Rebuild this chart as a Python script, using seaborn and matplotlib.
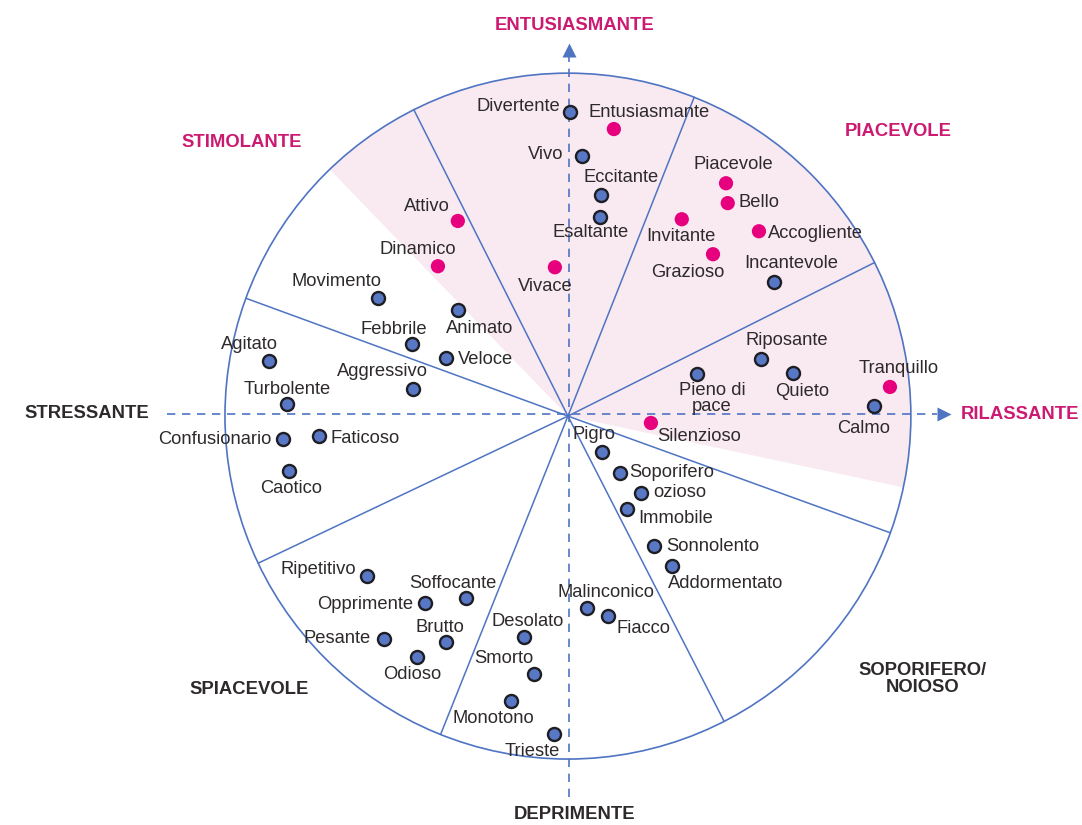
import matplotlib
matplotlib.use('Agg')
import numpy as np
import pandas as pd
import seaborn as sns
from matplotlib import pyplot as plt
from matplotlib.patches import Wedge, Circle

# DATA ########################################################################
# position of each descriptor on the two axes
# (x: stressante -> rilassante, y: deprimente -> entusiasmante)
words = [
    'Divertente', 'Entusiasmante', 'Vivo', 'Eccitante', 'Esaltante', 'Vivace',
    'Attivo', 'Dinamico', 'Movimento', 'Animato', 'Febbrile', 'Veloce',
    'Agitato', 'Aggressivo', 'Turbolente', 'Confusionario', 'Faticoso',
    'Caotico', 'Piacevole', 'Bello', 'Invitante', 'Accogliente', 'Grazioso',
    'Incantevole', 'Riposante', 'Quieto', 'Pieno di\npace', 'Tranquillo',
    'Calmo', 'Silenzioso', 'Pigro', 'Soporifero', 'ozioso', 'Immobile',
    'Sonnolento', 'Addormentato', 'Malinconico', 'Fiacco', 'Desolato',
    'Smorto', 'Monotono', 'Trieste', 'Ripetitivo', 'Soffocante', 'Opprimente',
    'Brutto', 'Pesante', 'Odioso',
]
x_vals = [
    0.006, 0.134, 0.041, 0.096, 0.093, -0.038,
    -0.321, -0.379, -0.554, -0.321, -0.455, -0.356,
    -0.872, -0.452, -0.819, -0.831, -0.726,
    -0.813, 0.461, 0.466, 0.332, 0.557, 0.423,
    0.601, 0.563, 0.656, 0.376, 0.939,
    0.892, 0.242, 0.099, 0.152, 0.213, 0.172,
    0.251, 0.303, 0.055, 0.117, -0.128,
    -0.099, -0.166, -0.041, -0.586, -0.297, -0.417,
    -0.356, -0.536, -0.440,
]
y_vals = [
    0.886, 0.837, 0.758, 0.644, 0.580, 0.434,
    0.569, 0.437, 0.344, 0.309, 0.210, 0.169,
    0.160, 0.079, 0.035, -0.067, -0.058,
    -0.160, 0.679, 0.621, 0.574, 0.539, 0.472,
    0.391, 0.166, 0.125, 0.122, 0.085,
    0.029, -0.020, -0.105, -0.166, -0.224, -0.271,
    -0.379, -0.437, -0.560, -0.583, -0.644,
    -0.752, -0.831, -0.927, -0.466, -0.531, -0.545,
    -0.659, -0.650, -0.703,
]
highlighted = [
    'Entusiasmante', 'Vivace', 'Attivo', 'Dinamico', 'Piacevole', 'Bello',
    'Invitante', 'Accogliente', 'Grazioso', 'Tranquillo', 'Silenzioso',
]

# sector boundaries (degrees) and shaded span
sector_angles = [116.7, 68.4, 26.6, -19.9, -62.9, -111.8, 205.4, 159.9]
shaded_span = (-12, 134)

categories = ['ENTUSIASMANTE', 'STIMOLANTE', 'PIACEVOLE', 'RILASSANTE',
              'STRESSANTE', 'SPIACEVOLE', 'DEPRIMENTE', 'SOPORIFERO/\nNOIOSO']
category_pink = ['ENTUSIASMANTE', 'STIMOLANTE', 'PIACEVOLE', 'RILASSANTE']

# label placement (pixel offset from point, y down, alignment) ################
LABEL_POS = {
    'Divertente': (-10, -6, 'right'), 'Entusiasmante': (35, -17, 'center'),
    'Vivo': (-19, -2, 'right'), 'Eccitante': (20, -18, 'center'),
    'Esaltante': (-9, 15, 'center'), 'Vivace': (-10, 19, 'center'),
    'Attivo': (-31, -14, 'center'), 'Dinamico': (-20, -17, 'center'),
    'Movimento': (-41, -17, 'center'), 'Animato': (22, 18, 'center'),
    'Febbrile': (-18, -15, 'center'), 'Veloce': (12, 1, 'left'),
    'Agitato': (-19, -17, 'center'), 'Aggressivo': (-30, -18, 'center'),
    'Turbolente': (0, -15, 'center'), 'Confusionario': (-11, 0, 'right'),
    'Faticoso': (12, 3, 'left'), 'Caotico': (2, 18, 'center'),
    'Piacevole': (7, -19, 'center'), 'Bello': (11, -1, 'left'),
    'Invitante': (-1, 17, 'center'), 'Accogliente': (9, 2, 'left'),
    'Grazioso': (-25, 18, 'center'), 'Incantevole': (17, -19, 'center'),
    'Riposante': (26, -19, 'center'), 'Quieto': (9, 18, 'center'),
    'Pieno di\npace': (15, 24, 'center'), 'Tranquillo': (9, -18, 'center'),
    'Calmo': (-10, 22, 'center'), 'Silenzioso': (48, 14, 'center'),
    'Pigro': (-8, -18, 'center'), 'Soporifero': (9, -1, 'left'),
    'ozioso': (12, 0, 'left'), 'Immobile': (11, 9, 'left'),
    'Sonnolento': (12, 0, 'left'), 'Addormentato': (54, 18, 'center'),
    'Malinconico': (19, -16, 'center'), 'Fiacco': (35, 12, 'center'),
    'Desolato': (4, -15, 'center'), 'Smorto': (-30, -15, 'center'),
    'Monotono': (-18, 17, 'center'), 'Trieste': (-22, 17, 'center'),
    'Ripetitivo': (-11, -6, 'right'), 'Soffocante': (-13, -15, 'center'),
    'Opprimente': (-12, 1, 'right'), 'Brutto': (-6, -15, 'center'),
    'Pesante': (-13, -1, 'right'), 'Odioso': (-5, 17, 'center'),
}
CAT_POS = {
    'ENTUSIASMANTE': (0.020, 1.140), 'STIMOLANTE': (-0.950, 0.799),
    'PIACEVOLE': (0.962, 0.831), 'RILASSANTE': (1.146, 0.006),
    'STRESSANTE': (-1.222, 0.009), 'SPIACEVOLE': (-0.930, -0.796),
    'DEPRIMENTE': (0.020, -1.163), 'SOPORIFERO/\nNOIOSO': (1.033, -0.767),
}
CAT_ALIGN = {'STRESSANTE': 'right', 'RILASSANTE': 'left'}

BLUE_LINE = '#4f74c2'
BLUE_DOT = '#5877c4'
PINK_DOT = '#e6007e'
PINK_TXT = '#cc1a72'
TXT = '#2e2a2b'

df = pd.DataFrame({'word': words, 'x': x_vals, 'y': y_vals})
df['group'] = np.where(df['word'].isin(highlighted), 'pink', 'blue')

sns.set_theme(style='white')
plt.rcParams['font.family'] = ['Liberation Sans', 'DejaVu Sans']

fig = plt.figure(figsize=(10.82, 8.25), dpi=100)
ax = fig.add_axes([0, 0, 1, 1])
ax.set_xlim(-1.656, 1.499)
ax.set_ylim(-1.192, 1.213)
ax.set_aspect('equal')
ax.axis('off')

# shaded area + circle + sector lines
ax.add_patch(Wedge((0, 0), 1, shaded_span[0], shaded_span[1],
                   facecolor='#f9eaf2', edgecolor='none', zorder=0))
ax.add_patch(Circle((0, 0), 1, facecolor='none', edgecolor=BLUE_LINE,
                    linewidth=1.2, zorder=1))
for a in sector_angles:
    r = np.deg2rad(a)
    ax.plot([0, np.cos(r)], [0, np.sin(r)], color=BLUE_LINE, lw=1.1, zorder=1)

# dashed axes with arrow heads
ax.plot([-1.169, 1.075], [0.006, 0.006], color=BLUE_LINE, lw=1.2,
        dashes=(5, 4), zorder=1)
ax.plot([0.003, 0.003], [-1.111, 1.05], color=BLUE_LINE, lw=1.2,
        dashes=(5, 4), zorder=1)
ax.plot(1.096, 0.006, marker='>', ms=10, color=BLUE_LINE, mec='none')
ax.plot(0.003, 1.067, marker='^', ms=10, color=BLUE_LINE, mec='none')

# points
sns.scatterplot(data=df[df['group'] == 'blue'], x='x', y='y', ax=ax,
                color=BLUE_DOT, edgecolor='#1e1e24', linewidth=1.7, s=88,
                zorder=3, legend=False)
sns.scatterplot(data=df[df['group'] == 'pink'], x='x', y='y', ax=ax,
                color=PINK_DOT, edgecolor='none', linewidth=0, s=105,
                zorder=3, legend=False)

for _, row in df.iterrows():
    dx, dy, ha = LABEL_POS[row['word']]
    ax.annotate(row['word'], (row['x'], row['y']),
                xytext=(dx * 0.72, -dy * 0.72), textcoords='offset points',
                ha=ha, va='center', fontsize=13.2, color=TXT,
                linespacing=0.95, zorder=4)

for c in categories:
    cx, cy = CAT_POS[c]
    ax.text(cx, cy, c, ha=CAT_ALIGN.get(c, 'center'), va='center',
            fontsize=13.3, fontweight='bold',
            color=PINK_TXT if c in category_pink else TXT,
            linespacing=0.95)

ax.set_xlabel('')
ax.set_ylabel('')
ax.axis('off')
fig.savefig('out.png', dpi=100)
